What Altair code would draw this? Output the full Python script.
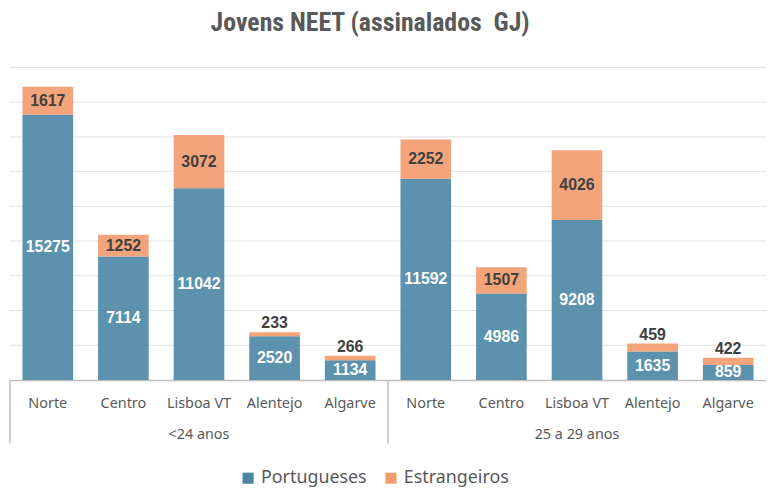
import altair as alt
import pandas as pd

groups = ["<24 anos", "25 a 29 anos"]
regions = ["Norte", "Centro", "Lisboa VT", "Alentejo", "Algarve"]
series = ["Portugueses", "Estrangeiros"]
colors = ["#4a86a4", "#f39a6c"]

portugueses_lt24 = [15275, 7114, 11042, 2520, 1134]
estrangeiros_lt24 = [1617, 1252, 3072, 233, 266]
portugueses_25_29 = [11592, 4986, 9208, 1635, 859]
estrangeiros_25_29 = [2252, 1507, 4026, 459, 422]

grid_values = list(range(2000, 18001, 2000))

rows = []
keys = []
for g, plist, elist in [(groups[0], portugueses_lt24, estrangeiros_lt24),
                        (groups[1], portugueses_25_29, estrangeiros_25_29)]:
    for r, p, e in zip(regions, plist, elist):
        key = g + "|" + r
        keys.append(key)
        rows.append(dict(key=key, group=g, region=r, serie="Portugueses", value=p,
                         mid=p / 2, total=p + e, ord=0, inside=True))
        rows.append(dict(key=key, group=g, region=r, serie="Estrangeiros", value=e,
                         mid=p + e / 2, total=p + e, ord=1, inside=e >= 700))
df = pd.DataFrame(rows)

W, H = 762, 315
GREY = "#595959"

xenc = alt.X("key:N", sort=keys, title=None,
             scale=alt.Scale(paddingInner=0.33, paddingOuter=0.165),
             axis=alt.Axis(labelExpr="split(datum.label, '|')[1]", labelAngle=0,
                           labelFont="Noto Sans", labelFontSize=14.5, labelColor=GREY,
                           labelPadding=17, ticks=False, domainColor="#bfbfbf",
                           domainWidth=1.5, grid=False))
yscale = alt.Scale(domain=[0, 18000], nice=False)

gridlines = alt.Chart(pd.DataFrame({"g": grid_values})).mark_rule(
    color="#e2e2e2", strokeWidth=1
).encode(
    y=alt.Y("g:Q", scale=yscale, title=None, axis=None),
    x=alt.value(0), x2=alt.value(W),
)

base = alt.Chart(df)

bars = base.mark_bar(opacity=0.9).encode(
    x=xenc,
    y=alt.Y("value:Q", stack="zero", scale=yscale, title=None, axis=None),
    color=alt.Color("serie:N", scale=alt.Scale(domain=series, range=colors),
                    legend=alt.Legend(title=None, orient="none", direction="horizontal",
                                      legendX=231, legendY=405, symbolType="square",
                                      symbolSize=125, symbolStrokeWidth=0, symbolOpacity=1,
                                      labelFont="Noto Sans", labelFontSize=18, labelOffset=4,
                                      labelColor=GREY, columnPadding=15, padding=0)),
    order=alt.Order("ord:Q"),
)

inside_labels = base.transform_filter("datum.inside").mark_text(
    font="Liberation Sans", fontWeight="bold", fontSize=16, baseline="middle"
).encode(
    x=alt.X("key:N", sort=keys),
    y=alt.Y("mid:Q", scale=yscale),
    text=alt.Text("value:Q", format="d"),
    color=alt.condition("datum.serie == 'Portugueses'", alt.value("white"), alt.value("#404040")),
)

outside_labels = base.transform_filter("!datum.inside").mark_text(
    font="Liberation Sans", fontWeight="bold", fontSize=16, baseline="bottom", dy=-1,
    color="#404040"
).encode(
    x=alt.X("key:N", sort=keys),
    y=alt.Y("total:Q", scale=yscale),
    text=alt.Text("value:Q", format="d"),
)

group_df = pd.DataFrame({"key": [g + "|" + regions[2] for g in groups], "label": groups})
group_labels = alt.Chart(group_df).mark_text(
    font="Noto Sans", fontSize=14.5, color=GREY, baseline="middle"
).encode(
    x=alt.X("key:N", sort=keys),
    y=alt.value(H + 55),
    text="label:N",
)

sep_df = pd.DataFrame({"pos": [0, W / 2]})
separators = alt.Chart(sep_df).mark_rule(color="#bfbfbf", strokeWidth=1.5).encode(
    x=alt.X("pos:Q", scale=None),
    y=alt.value(H), y2=alt.value(H + 64),
)

chart = alt.layer(gridlines, bars, inside_labels, outside_labels, group_labels, separators).properties(
    width=W, height=H,
    autosize=alt.AutoSizeParams(type="none"),
    padding={"left": 2, "top": 58, "right": 0, "bottom": 112},
    title=alt.TitleParams(text="Jovens NEET (assinalados\u00a0 GJ)",
                          font="Liberation Sans Narrow, Roboto Condensed, DejaVu Sans Condensed, sans-serif",
                          fontSize=26, fontWeight="bold", color=GREY,
                          anchor="middle", dx=-18, offset=31),
).configure_view(stroke=None)

chart.save("out.html", embed_options={"renderer": "svg", "actions": False})
